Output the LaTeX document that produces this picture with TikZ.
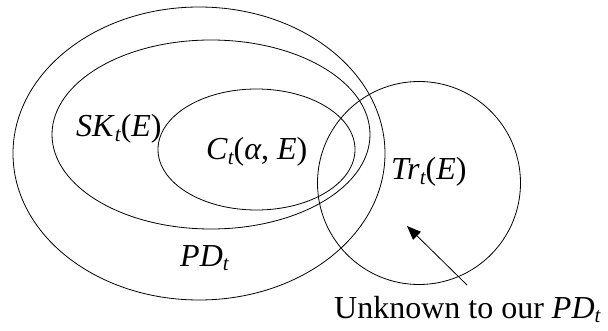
\documentclass[tikz,border=0pt]{standalone}
\usepackage{fontspec}
\setmainfont{Liberation Serif}
\usetikzlibrary{shapes.geometric,arrows.meta}
\newcommand\subtt{\raisebox{-0.28ex}{\fontsize{21}{21}\selectfont\itshape t}}
\tikzset{
  setline/.style={draw, line width=0.8pt},
  ell/.style={setline, ellipse, inner sep=0pt},
  lbl/.style={inner sep=0pt, anchor=base west, font=\fontsize{32}{32}\selectfont},
}
\begin{document}
\begin{tikzpicture}[x=1pt,y=-1pt]
\useasboundingbox (0,0) rectangle (608,331);
\node[ell, minimum width=372pt, minimum height=293pt] (pd) at (199,153.5) {};
\node[ell, minimum width=318pt, minimum height=189pt] (sk) at (211,134.5) {};
\node[ell, minimum width=197pt, minimum height=121pt] (c) at (256.5,149.5) {};
\node[ell, circle, minimum size=203pt] (tr) at (419,183) {};
\node[lbl] (sklbl) at (76,137) {\textit{SK}\subtt(\textit{E})};
\node[lbl] (clbl) at (206,160) {\textit{C}\subtt(\textit{α}, \textit{E})};
\node[lbl] (trlbl) at (391,180) {\textit{Tr}\subtt(\textit{E})};
\node[lbl] (pdlbl) at (180,266) {\textit{PD}\subtt};
\node[lbl] (unk) at (334,318) {Unknown to our \textit{PD}\subtt};
\coordinate (atail) at (467,285);
\coordinate (ahead) at (407,226);
\draw[line width=0.8pt, -{Triangle[length=14pt,width=11pt]}] (atail) -- (ahead);
\end{tikzpicture}
\end{document}
